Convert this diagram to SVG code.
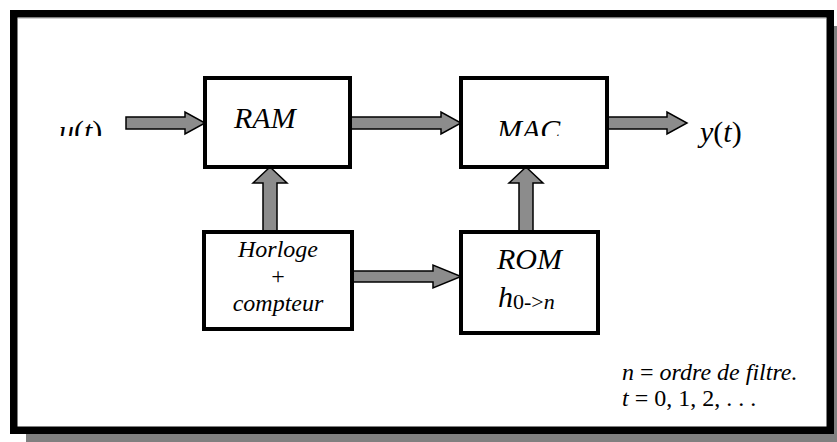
<svg xmlns="http://www.w3.org/2000/svg" width="837" height="442" viewBox="0 0 837 442">
<style>
.box{fill:#fff;stroke:#000;stroke-width:4}
.arr{fill:#8c8c8c;stroke:#000;stroke-width:1.5;stroke-linejoin:miter}
text{font-family:'Liberation Serif','Times New Roman',serif;fill:#000}
.i{font-style:italic}
</style>
<defs>
<clipPath id="clipTop"><rect x="0" y="0" width="837" height="136"/></clipPath>
</defs>
<rect x="26" y="26" width="824" height="424" fill="#808080"/>
<rect x="13.75" y="13.75" width="816.5" height="416.5" fill="#fff" stroke="#000" stroke-width="7.5"/>
<line x1="18" y1="18.5" x2="826" y2="18.5" stroke="#d0d0d0" stroke-width="1"/>
<g id="connectors">
<polygon class="arr" points="126,117 185,117 185,112 205,123 185,134 185,129 126,129"/>
<polygon class="arr" points="350,117 441,117 441,112 461,123 441,134 441,129 350,129"/>
<polygon class="arr" points="607,117 667,117 667,112 687,123 667,134 667,129 607,129"/>
<polygon class="arr" points="352,271 433,271 433,265 461,276.5 433,288 433,282 352,282"/>
<polygon class="arr" points="263,232 263,183 253,183 270,167 287,183 277,183 277,232"/>
<polygon class="arr" points="519,232 519,183 509,183 526,167 543,183 533,183 533,232"/>
</g>
<g id="RAM">
<rect class="box" x="205" y="78" width="145" height="89"/>
<text class="i" x="234" y="128" font-size="30">RAM</text>
</g>
<g id="MAC">
<rect class="box" x="461" y="78" width="146" height="89"/>
<text class="i" x="497" y="140" font-size="30" clip-path="url(#clipTop)">MAC</text>
</g>
<g id="Horloge">
<rect class="box" x="204" y="232" width="148" height="97"/>
<text class="i" x="278" y="257" font-size="24" text-anchor="middle">Horloge</text>
<text x="278" y="284" font-size="24" text-anchor="middle">+</text>
<text class="i" x="278" y="311" font-size="24" text-anchor="middle">compteur</text>
</g>
<g id="ROM">
<rect class="box" x="461" y="232" width="137" height="101"/>
<text class="i" x="497" y="269" font-size="30">ROM</text>
<text x="498" y="307" font-size="30"><tspan font-style="italic">h</tspan><tspan font-size="22" dy="2">0-&gt;</tspan><tspan font-size="22" font-style="italic">n</tspan></text>
</g>
<g id="input">
<text x="59" y="141" font-size="30" clip-path="url(#clipTop)"><tspan font-style="italic">u</tspan>(<tspan font-style="italic">t</tspan>)</text>
</g>
<g id="output">
<text x="700" y="142" font-size="30"><tspan font-style="italic">y</tspan>(<tspan font-style="italic">t</tspan>)</text>
</g>
<g id="note">
<text x="622" y="380" font-size="24"><tspan font-style="italic">n</tspan> = <tspan font-style="italic">ordre de filtre.</tspan></text>
<text x="622" y="406" font-size="24"><tspan font-style="italic">t</tspan> = 0, 1, 2, . . .</text>
</g>
</svg>
